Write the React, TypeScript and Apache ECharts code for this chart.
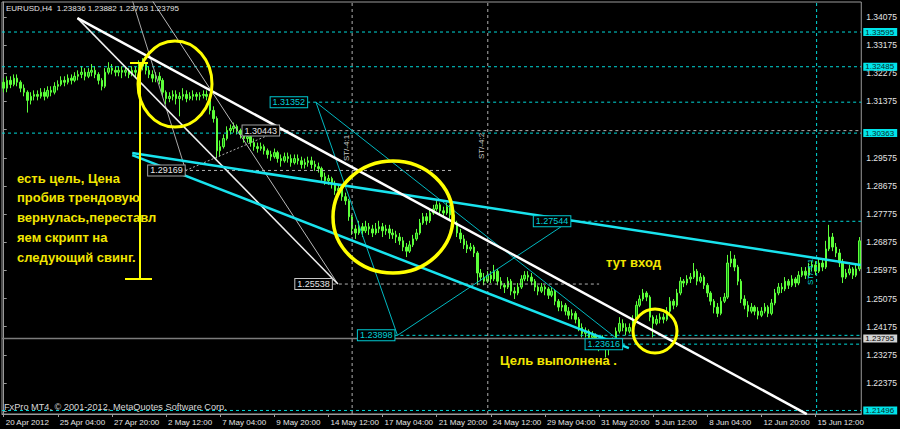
import React, { useEffect, useRef } from "react";
import * as echarts from "echarts";

// ---------- data ----------
const symbolTitle = "EURUSD,H4";
const lastQuote = ["1.23836", "1.23882", "1.23763", "1.23795"];
const copyright = "FxPro MT4, © 2001-2012, MetaQuotes Software Corp.";

const timeLabels = [
  "20 Apr 2012", "25 Apr 04:00", "27 Apr 20:00", "2 May 12:00", "7 May 04:00", "9 May 20:00",
  "14 May 12:00", "17 May 04:00", "21 May 20:00", "24 May 12:00", "29 May 04:00", "31 May 20:00",
  "5 Jun 12:00", "8 Jun 04:00", "12 Jun 20:00", "15 Jun 12:00",
];
const barsPerLabel = 16;

const priceTicks = [
  1.34075, 1.33175, 1.32275, 1.31375, 1.30475, 1.29575, 1.28675, 1.27775,
  1.26875, 1.25975, 1.25075, 1.24175, 1.23275, 1.22375, 1.21475,
];
// tick values whose label is covered by a price marker in the terminal
const coveredTicks = [1.30475, 1.21475];
const priceMin = 1.21383;
const priceMax = 1.34555;

// [open, close, low, high]
const ohlc: number[][] = [
  [1.3199,1.3180,1.3167,1.3212],[1.3180,1.3205,1.3167,1.3218],[1.3205,1.3192,1.3180,1.3218],[1.3192,1.3212,1.3186,1.3224],
  [1.3212,1.3199,1.3186,1.3224],[1.3199,1.3180,1.3167,1.3205],[1.3180,1.3167,1.3154,1.3192],[1.3167,1.3141,1.3102,1.3173],
  [1.3141,1.3154,1.3128,1.3167],[1.3154,1.3160,1.3141,1.3173],[1.3160,1.3154,1.3141,1.3173],[1.3154,1.3167,1.3147,1.3180],
  [1.3167,1.3154,1.3141,1.3180],[1.3154,1.3173,1.3147,1.3186],[1.3173,1.3167,1.3154,1.3186],[1.3167,1.3186,1.3160,1.3199],
  [1.3186,1.3192,1.3173,1.3205],[1.3192,1.3205,1.3186,1.3218],[1.3205,1.3199,1.3186,1.3218],[1.3199,1.3212,1.3192,1.3224],
  [1.3212,1.3205,1.3192,1.3224],[1.3205,1.3218,1.3199,1.3231],[1.3218,1.3224,1.3205,1.3237],[1.3224,1.3231,1.3212,1.3250],
  [1.3231,1.3218,1.3205,1.3244],[1.3218,1.3231,1.3212,1.3244],[1.3231,1.3237,1.3218,1.3257],[1.3237,1.3224,1.3212,1.3250],
  [1.3224,1.3205,1.3192,1.3231],[1.3205,1.3186,1.3173,1.3212],[1.3186,1.3231,1.3180,1.3244],[1.3231,1.3244,1.3224,1.3263],
  [1.3244,1.3237,1.3224,1.3257],[1.3237,1.3231,1.3218,1.3250],[1.3231,1.3237,1.3218,1.3250],[1.3237,1.3231,1.3212,1.3250],
  [1.3231,1.3237,1.3218,1.3250],[1.3237,1.3224,1.3212,1.3244],[1.3224,1.3237,1.3218,1.3250],[1.3237,1.3231,1.3212,1.3250],
  [1.3231,1.3250,1.3224,1.3269],[1.3250,1.3257,1.3237,1.3276],[1.3257,1.3237,1.3224,1.3263],[1.3237,1.3224,1.3212,1.3250],
  [1.3224,1.3212,1.3199,1.3237],[1.3212,1.3218,1.3199,1.3231],[1.3218,1.3205,1.3192,1.3231],[1.3205,1.3167,1.3154,1.3212],
  [1.3167,1.3147,1.3128,1.3173],[1.3147,1.3154,1.3135,1.3167],[1.3154,1.3160,1.3141,1.3173],[1.3160,1.3147,1.3128,1.3173],
  [1.3147,1.3154,1.3090,1.3167],[1.3154,1.3160,1.3141,1.3180],[1.3160,1.3147,1.3135,1.3173],[1.3147,1.3154,1.3141,1.3167],
  [1.3154,1.3160,1.3141,1.3173],[1.3160,1.3154,1.3141,1.3167],[1.3154,1.3157,1.3141,1.3167],[1.3157,1.3160,1.3147,1.3173],
  [1.3160,1.3154,1.3141,1.3173],[1.3154,1.3109,1.3096,1.3160],[1.3109,1.3083,1.3070,1.3122],[1.3083,1.2980,1.2955,1.3090],
  [1.2980,1.2993,1.2961,1.3013],[1.2993,1.3019,1.2987,1.3032],[1.3019,1.3045,1.3013,1.3058],[1.3045,1.3051,1.3032,1.3064],
  [1.3051,1.3058,1.3038,1.3070],[1.3058,1.3045,1.3032,1.3064],[1.3045,1.3032,1.3019,1.3051],[1.3032,1.3019,1.3006,1.3045],
  [1.3019,1.3025,1.3006,1.3038],[1.3025,1.3006,1.2993,1.3032],[1.3006,1.2993,1.2980,1.3019],[1.2993,1.2987,1.2974,1.3006],
  [1.2987,1.2993,1.2980,1.3006],[1.2993,1.2980,1.2968,1.3000],[1.2980,1.2968,1.2955,1.2987],[1.2968,1.2961,1.2948,1.2980],
  [1.2961,1.2974,1.2955,1.2987],[1.2974,1.2955,1.2942,1.2980],[1.2955,1.2948,1.2929,1.2968],[1.2948,1.2961,1.2942,1.2974],
  [1.2961,1.2955,1.2942,1.2974],[1.2955,1.2942,1.2929,1.2968],[1.2942,1.2955,1.2936,1.2968],[1.2955,1.2948,1.2936,1.2968],
  [1.2948,1.2936,1.2923,1.2961],[1.2936,1.2942,1.2923,1.2955],[1.2942,1.2948,1.2929,1.2961],[1.2948,1.2936,1.2923,1.2961],
  [1.2936,1.2929,1.2916,1.2948],[1.2929,1.2923,1.2910,1.2942],[1.2923,1.2897,1.2884,1.2929],[1.2897,1.2884,1.2871,1.2910],
  [1.2884,1.2891,1.2871,1.2903],[1.2891,1.2871,1.2859,1.2897],[1.2871,1.2852,1.2839,1.2884],[1.2852,1.2859,1.2839,1.2871],
  [1.2859,1.2833,1.2820,1.2865],[1.2833,1.2820,1.2807,1.2846],[1.2820,1.2769,1.2756,1.2826],[1.2769,1.2730,1.2711,1.2775],
  [1.2730,1.2717,1.2698,1.2743],[1.2717,1.2737,1.2711,1.2756],[1.2737,1.2724,1.2704,1.2749],[1.2724,1.2737,1.2717,1.2756],
  [1.2737,1.2730,1.2711,1.2749],[1.2730,1.2717,1.2704,1.2743],[1.2717,1.2730,1.2711,1.2749],[1.2730,1.2737,1.2717,1.2756],
  [1.2737,1.2724,1.2704,1.2749],[1.2724,1.2730,1.2711,1.2743],[1.2730,1.2717,1.2698,1.2743],[1.2717,1.2711,1.2698,1.2730],
  [1.2711,1.2704,1.2685,1.2724],[1.2704,1.2692,1.2679,1.2717],[1.2692,1.2672,1.2659,1.2704],[1.2672,1.2659,1.2640,1.2685],
  [1.2659,1.2679,1.2653,1.2692],[1.2679,1.2698,1.2672,1.2711],[1.2698,1.2717,1.2692,1.2730],[1.2717,1.2749,1.2711,1.2762],
  [1.2749,1.2769,1.2743,1.2781],[1.2769,1.2756,1.2743,1.2781],[1.2756,1.2781,1.2749,1.2794],[1.2781,1.2794,1.2775,1.2807],
  [1.2794,1.2807,1.2788,1.2820],[1.2807,1.2788,1.2775,1.2814],[1.2788,1.2781,1.2769,1.2801],[1.2781,1.2801,1.2775,1.2814],
  [1.2801,1.2775,1.2762,1.2807],[1.2775,1.2749,1.2737,1.2781],[1.2749,1.2717,1.2704,1.2756],[1.2717,1.2698,1.2685,1.2730],
  [1.2698,1.2679,1.2666,1.2711],[1.2679,1.2666,1.2653,1.2692],[1.2666,1.2672,1.2659,1.2685],[1.2672,1.2653,1.2640,1.2679],
  [1.2653,1.2589,1.2550,1.2659],[1.2589,1.2576,1.2563,1.2602],[1.2576,1.2563,1.2550,1.2589],[1.2563,1.2582,1.2557,1.2595],
  [1.2582,1.2570,1.2557,1.2595],[1.2570,1.2595,1.2563,1.2615],[1.2595,1.2563,1.2550,1.2602],[1.2563,1.2550,1.2538,1.2576],
  [1.2550,1.2544,1.2525,1.2557],[1.2544,1.2563,1.2538,1.2576],[1.2563,1.2531,1.2518,1.2570],[1.2531,1.2525,1.2506,1.2544],
  [1.2525,1.2544,1.2518,1.2557],[1.2544,1.2570,1.2538,1.2582],[1.2570,1.2582,1.2563,1.2595],[1.2582,1.2576,1.2563,1.2595],
  [1.2576,1.2563,1.2550,1.2589],[1.2563,1.2544,1.2531,1.2570],[1.2544,1.2531,1.2518,1.2550],[1.2531,1.2544,1.2525,1.2557],
  [1.2544,1.2538,1.2518,1.2550],[1.2538,1.2518,1.2506,1.2544],[1.2518,1.2531,1.2512,1.2544],[1.2531,1.2499,1.2486,1.2538],
  [1.2499,1.2480,1.2467,1.2506],[1.2480,1.2486,1.2467,1.2499],[1.2486,1.2467,1.2454,1.2493],[1.2467,1.2454,1.2441,1.2480],
  [1.2454,1.2460,1.2441,1.2473],[1.2460,1.2441,1.2428,1.2467],[1.2441,1.2415,1.2403,1.2448],[1.2415,1.2396,1.2383,1.2428],
  [1.2396,1.2403,1.2383,1.2415],[1.2403,1.2383,1.2371,1.2409],[1.2383,1.2390,1.2371,1.2403],[1.2390,1.2371,1.2358,1.2396],
  [1.2371,1.2358,1.2339,1.2383],[1.2358,1.2371,1.2351,1.2390],[1.2371,1.2345,1.2319,1.2377],[1.2345,1.2351,1.2326,1.2364],
  [1.2351,1.2371,1.2345,1.2383],[1.2371,1.2403,1.2364,1.2415],[1.2403,1.2428,1.2396,1.2448],[1.2428,1.2415,1.2403,1.2441],
  [1.2415,1.2403,1.2390,1.2428],[1.2403,1.2415,1.2396,1.2428],[1.2415,1.2441,1.2409,1.2454],[1.2441,1.2486,1.2435,1.2499],
  [1.2486,1.2506,1.2480,1.2518],[1.2506,1.2525,1.2499,1.2538],[1.2525,1.2512,1.2499,1.2531],[1.2512,1.2448,1.2435,1.2518],
  [1.2448,1.2428,1.2383,1.2454],[1.2428,1.2441,1.2422,1.2454],[1.2441,1.2448,1.2428,1.2460],[1.2448,1.2441,1.2428,1.2460],
  [1.2441,1.2467,1.2435,1.2480],[1.2467,1.2499,1.2460,1.2512],[1.2499,1.2486,1.2473,1.2506],[1.2486,1.2525,1.2480,1.2538],
  [1.2525,1.2563,1.2518,1.2576],[1.2563,1.2557,1.2544,1.2570],[1.2557,1.2570,1.2550,1.2582],[1.2570,1.2576,1.2557,1.2589],
  [1.2576,1.2595,1.2570,1.2621],[1.2595,1.2563,1.2550,1.2602],[1.2563,1.2576,1.2557,1.2589],[1.2576,1.2550,1.2538,1.2582],
  [1.2550,1.2525,1.2512,1.2557],[1.2525,1.2499,1.2486,1.2531],[1.2499,1.2480,1.2460,1.2506],[1.2480,1.2460,1.2448,1.2493],
  [1.2460,1.2499,1.2454,1.2512],[1.2499,1.2512,1.2493,1.2525],[1.2512,1.2621,1.2506,1.2647],[1.2621,1.2634,1.2608,1.2659],
  [1.2634,1.2608,1.2595,1.2647],[1.2608,1.2563,1.2550,1.2615],[1.2563,1.2506,1.2493,1.2570],[1.2506,1.2486,1.2473,1.2518],
  [1.2486,1.2467,1.2448,1.2499],[1.2467,1.2480,1.2460,1.2493],[1.2480,1.2467,1.2454,1.2486],[1.2467,1.2454,1.2441,1.2480],
  [1.2454,1.2467,1.2448,1.2480],[1.2467,1.2480,1.2460,1.2493],[1.2480,1.2460,1.2448,1.2486],[1.2460,1.2493,1.2454,1.2506],
  [1.2493,1.2525,1.2486,1.2538],[1.2525,1.2544,1.2518,1.2557],[1.2544,1.2538,1.2525,1.2557],[1.2538,1.2563,1.2531,1.2576],
  [1.2563,1.2550,1.2538,1.2570],[1.2550,1.2570,1.2544,1.2582],[1.2570,1.2557,1.2544,1.2576],[1.2557,1.2582,1.2550,1.2595],
  [1.2582,1.2595,1.2576,1.2608],[1.2595,1.2582,1.2570,1.2608],[1.2582,1.2608,1.2576,1.2621],[1.2608,1.2615,1.2595,1.2627],
  [1.2615,1.2595,1.2582,1.2627],[1.2595,1.2621,1.2589,1.2634],[1.2621,1.2608,1.2595,1.2634],[1.2608,1.2666,1.2602,1.2692],
  [1.2666,1.2704,1.2659,1.2743],[1.2704,1.2672,1.2659,1.2717],[1.2672,1.2653,1.2640,1.2685],[1.2653,1.2621,1.2608,1.2666],
  [1.2621,1.2576,1.2557,1.2634],[1.2576,1.2589,1.2570,1.2602],[1.2589,1.2602,1.2582,1.2615],[1.2602,1.2582,1.2570,1.2608],
  [1.2582,1.2602,1.2576,1.2615],[1.2602,1.2692,1.2595,1.2704],
];

// price levels marked on the axis (cyan) and the bid line
const axisLevels = [1.33595, 1.32485, 1.30363, 1.21496];
const bidPrice = 1.23795;
// [price, first bar index] cyan dashed levels
const cyanLevels = [[1.31352, 89.7], [1.27544, 167.5], [1.23898, 115.5], [1.23616, 182.8]];
// [price, first bar, last bar] grey dotted levels
const greyLevels = [[1.30443, 81.5, 253.5], [1.29169, 53.3, 132.5], [1.25538, 97.3, 176]];

// trend lines as [bar index, price] points
const trendMain = [[21.8, 1.3404], [237.4, 1.2138]];
const trendSteep = [[21.8, 1.3404], [98.8, 1.25538]];
const fanA = [[38.0, 1.3462], [53.8, 1.29169]];
const fanB = [[43.8, 1.3462], [98.8, 1.25538]];
const zigGrey = [[53.8, 1.29169], [81.4, 1.30443]];
const channelUpper = [[38.0, 1.2973], [253.3, 1.2615]];
const channelLower = [[38.0, 1.2966], [184.8, 1.2349]];
const zigCyan = [[92.3, 1.31352], [116.4, 1.23898], [167.2, 1.27544]];
const zigCyan2 = [[92.3, 1.31352], [183.3, 1.23616]];
const vGreyBars = [103.0, 143.1];
const vCyanBar = 240.3;

const noteLines = ["есть цель, Цена", "пробив трендовую", "вернулась,переставл", "яем скрипт на", "следующий свинг."];
const noteEntry = "тут вход";
const noteDone = "Цель выполнена .";
const stLabel1 = "ST/-4:1";
const stLabel2 = "ST/-4:2";

// ---------- styling ----------
const FONT = "'Liberation Sans', Arial, sans-serif";
const AXIS = "#9a9a9a";
const TXT = "#e4e4e4";
const CYAN = "#00d8d8";
const GREY = "#b0b0b0";
const YEL = "#ffff00";
const YEL_TXT = "#f2e600";

const N = ohlc.length;
const categories = ohlc.map((_, i) => (i % barsPerLabel === 0 && timeLabels[i / barsPerLabel]) ? timeLabels[i / barsPerLabel] : "b" + i);
const labelTicks = priceTicks.filter((v) => coveredTicks.indexOf(v) < 0);

function seg(data: number[][], color: string, width: number, type: any = "solid") {
  return {
    type: "line", xAxisIndex: 1, yAxisIndex: 0, data, symbol: "none", showSymbol: false,
    silent: true, clip: true, lineStyle: { color, width, type }, z: 3,
  };
}

function buildOption(): any {
  const series: any[] = [
    {
      type: "candlestick", xAxisIndex: 0, yAxisIndex: 0, data: ohlc, barWidth: 2, silent: true, z: 2,
      itemStyle: { color: "#129c12", color0: "#5cff3a", borderColor: "#5cff3a", borderColor0: "#5cff3a", borderWidth: 1 },
    },
  ];
  axisLevels.forEach((p) => series.push(seg([[-0.5, p], [N - 0.5, p]], CYAN, 1, [3, 3])));
  cyanLevels.forEach(([p, s]) => series.push(seg([[s, p], [N - 0.5, p]], CYAN, 1, [3, 3])));
  greyLevels.forEach(([p, s, e]) => series.push(seg([[s, p], [e, p]], GREY, 1, [3, 3])));
  vGreyBars.forEach((b) => series.push(seg([[b, priceMin], [b, priceMax]], GREY, 1, [3, 3])));
  series.push(seg([[vCyanBar, priceMin], [vCyanBar, priceMax]], CYAN, 1, [3, 3]));
  series.push(seg([[-0.5, bidPrice], [N - 0.5, bidPrice]], "#7c7c7c", 1.5));
  series.push(seg(fanA, "#a8a8a8", 1));
  series.push(seg(fanB, "#b8b8b8", 1));
  series.push(seg(zigGrey, GREY, 1, [2, 2]));
  series.push(seg(trendSteep, "#f0f0f0", 1.5));
  series.push(seg(zigCyan, "#00b8c0", 1));
  series.push(seg(zigCyan2, "#00b8c0", 1));
  series.push(seg(channelUpper, "#19e3ee", 2.5));
  series.push(seg(channelLower, "#19e3ee", 2.5));
  series.push(seg(trendMain, "#ffffff", 2.5));

  return {
    animation: false,
    backgroundColor: "#000000",
    grid: { left: 2, right: 33, top: 2, bottom: 15, show: true, borderColor: AXIS, borderWidth: 1 },
    xAxis: [
      {
        type: "category", data: categories, gridIndex: 0,
        axisLine: { show: true, lineStyle: { color: AXIS, width: 1 } },
        axisTick: { show: true, alignWithLabel: true, length: 3, interval: (i: number) => i % barsPerLabel === 0, lineStyle: { color: AXIS } },
        axisLabel: {
          interval: (i: number) => i % barsPerLabel === 0, align: "left", margin: 4,
          color: TXT, fontSize: 8, fontFamily: FONT, padding: [0, 0, 0, 2],
        },
        splitLine: { show: false },
      },
      { type: "value", gridIndex: 0, min: -0.5, max: N - 0.5, show: false },
    ],
    yAxis: {
      type: "value", position: "right", min: priceMin, max: priceMax, scale: true,
      splitLine: { show: false },
      axisLine: { show: true, lineStyle: { color: AXIS, width: 1 } },
      axisTick: { show: true, length: 3, customValues: priceTicks, lineStyle: { color: AXIS } },
      axisLabel: {
        customValues: labelTicks, formatter: (v: number) => v.toFixed(5), margin: 5,
        color: TXT, fontSize: 8.5, lineHeight: 7, fontFamily: FONT,
      },
    },
    series,
  };
}

function buildGraphic(X: (i: number) => number, Y: (p: number) => number): any[] {
  const g: any[] = [];
  const txt = (x: number, y: number, text: string, extra: any = {}, style: any = {}) => ({
    type: "text", x, y, z: 100, silent: true, ...extra,
    style: { text, fill: TXT, fontSize: 8, fontFamily: FONT, align: "left", verticalAlign: "middle", ...style },
  });
  const box = (text: string, xr: number, y: number, color: string, fill: string) =>
    txt(xr, y, text, {}, {
      fill, fontSize: 9, align: "right", backgroundColor: "#000", borderColor: color, borderWidth: 1, padding: [1, 2, 0, 2],
    });

  // header and copyright
  g.push(txt(6, 8, `${symbolTitle}  ${lastQuote.join(" ")}`, {}, { fontSize: 8 }));
  g.push(txt(4, 407, copyright, {}, { fontSize: 9.2, fill: "#d8d8d8" }));

  // level labels inside the chart
  cyanLevels.forEach(([p, s]) => g.push(box(p.toFixed(5), X(s), Y(p), "#00c8d0", "#00d0d8")));
  g.push(box(greyLevels[0][0].toFixed(5), X(81.4), Y(greyLevels[0][0]), "#a0a0a0", "#e6e6e6"));
  g.push(box(greyLevels[1][0].toFixed(5), X(53.5), Y(greyLevels[1][0]), "#a0a0a0", "#e6e6e6"));
  g.push(box(greyLevels[2][0].toFixed(5), X(97.0), Y(greyLevels[2][0]), "#c8c8c8", "#e6e6e6"));

  // axis price labels
  const axisX = X(N - 0.5) + 2;
  const axisTag = { fontSize: 8, lineHeight: 7, padding: [1, 3, 0, 2] };
  axisLevels.forEach((p) =>
    g.push(txt(axisX, Y(p), p.toFixed(5), {}, { fill: "#0b2b2b", backgroundColor: "#00e4ea", ...axisTag }))
  );
  g.push(txt(axisX, Y(bidPrice), bidPrice.toFixed(5), {}, { fill: "#000", backgroundColor: "#d2d2d2", ...axisTag }));

  // rotated ST labels next to vertical lines
  g.push(txt(X(vGreyBars[0]) - 6, 148, stLabel1, { rotation: Math.PI / 2 }, { fill: "#c8c8c8", align: "center" }));
  g.push(txt(X(vGreyBars[1]) - 6, 146, stLabel2, { rotation: Math.PI / 2 }, { fill: "#c8c8c8", align: "center" }));
  g.push(txt(X(vCyanBar) - 6, 272, stLabel1, { rotation: Math.PI / 2 }, { fill: CYAN, align: "center" }));

  // yellow hand-drawn annotations
  const ell = (cx: number, cy: number, rx: number, ry: number, w: number) => ({
    type: "ellipse", z: 110, silent: true, shape: { cx, cy, rx, ry }, style: { fill: "none", stroke: YEL, lineWidth: w },
  });
  g.push(ell(175, 84, 37, 43, 3));
  g.push(ell(393, 217, 60, 56, 3.5));
  g.push(ell(655, 331, 22, 22, 3));
  const ln = (x1: number, y1: number, x2: number, y2: number) => ({
    type: "line", z: 110, silent: true, shape: { x1, y1, x2, y2 }, style: { stroke: YEL, lineWidth: 2 },
  });
  g.push(ln(140, 63, 140, 279));
  g.push(ln(130, 63, 148, 63));
  g.push(ln(125, 279, 152, 279));

  const boldY = { fill: YEL_TXT, fontSize: 13, fontWeight: "bold", fontFamily: FONT };
  noteLines.forEach((t, k) => g.push(txt(17, 178 + k * 19.8, t, { z: 120 }, boldY)));
  g.push(txt(606, 262, noteEntry, { z: 120 }, boldY));
  g.push(txt(500, 360, noteDone, { z: 120 }, boldY));
  return g;
}

export default function App() {
  const ref = useRef<HTMLDivElement>(null);
  useEffect(() => {
    const el = ref.current!;
    const chart = echarts.init(el, null, { renderer: "svg" });
    chart.setOption(buildOption());
    const X = (i: number) => chart.convertToPixel({ xAxisIndex: 1 } as any, i) as unknown as number;
    const Y = (p: number) => chart.convertToPixel({ yAxisIndex: 0 } as any, p) as unknown as number;
    chart.setOption({ graphic: buildGraphic(X, Y) });
    return () => chart.dispose();
  }, []);
  return <div ref={ref} style={{ position: "fixed", left: 0, top: 0, width: 900, height: 429, background: "#000" }} />;
}
